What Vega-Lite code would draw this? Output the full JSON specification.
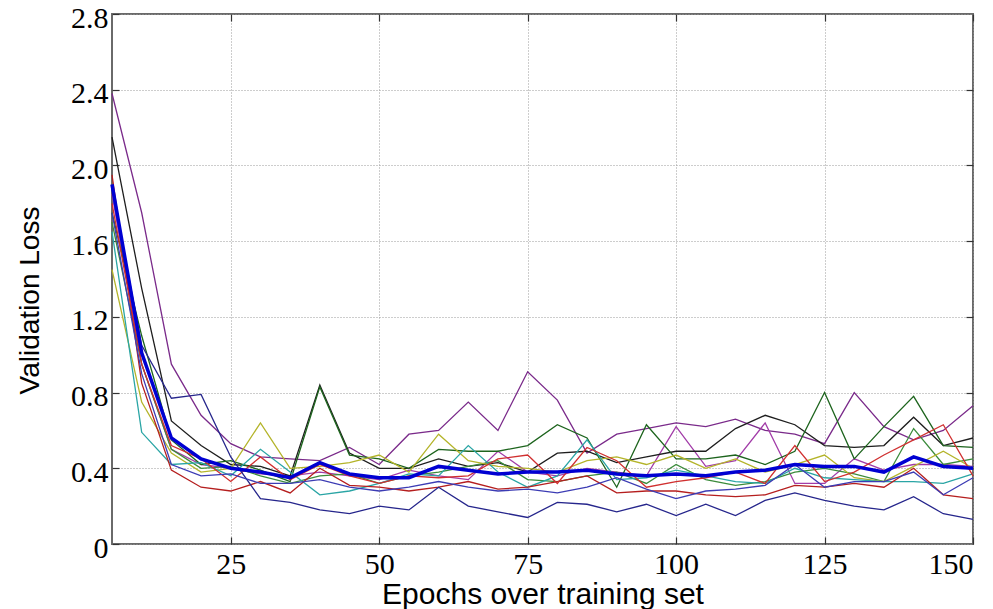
{
  "$schema": "https://vega.github.io/schema/vega-lite/v6.json",
  "width": 861,
  "height": 530,
  "autosize": {"type": "none"},
  "padding": {"left": 112, "top": 14, "right": 20, "bottom": 65},
  "background": "white",
  "config": {
    "view": {"stroke": "#6a6a6a", "strokeWidth": 2},
    "axis": {"domain": false, "tickColor": "#333", "tickWidth": 1.2}
  },
  "data": {"values": [
    {"epoch":5,"Mean":1.90,"P1":2.38,"P2":1.85,"K":2.15,"G1":1.75,"G2":1.70,"Y":1.45,"C":1.65,"R1":1.95,"R2":1.80,"N1":1.88,"N2":1.75},
    {"epoch":10,"Mean":1.01,"P1":1.75,"P2":0.95,"K":1.35,"G1":1.10,"G2":0.95,"Y":0.75,"C":0.59,"R1":0.85,"R2":0.95,"N1":1.05,"N2":0.90},
    {"epoch":15,"Mean":0.56,"P1":0.95,"P2":0.50,"K":0.65,"G1":0.55,"G2":0.50,"Y":0.48,"C":0.42,"R1":0.39,"R2":0.52,"N1":0.77,"N2":0.42},
    {"epoch":20,"Mean":0.45,"P1":0.68,"P2":0.42,"K":0.52,"G1":0.42,"G2":0.40,"Y":0.38,"C":0.43,"R1":0.30,"R2":0.45,"N1":0.79,"N2":0.36},
    {"epoch":25,"Mean":0.40,"P1":0.53,"P2":0.40,"K":0.42,"G1":0.44,"G2":0.41,"Y":0.40,"C":0.36,"R1":0.28,"R2":0.33,"N1":0.46,"N2":0.37},
    {"epoch":30,"Mean":0.38,"P1":0.46,"P2":0.37,"K":0.41,"G1":0.39,"G2":0.36,"Y":0.64,"C":0.50,"R1":0.33,"R2":0.46,"N1":0.24,"N2":0.32},
    {"epoch":35,"Mean":0.35,"P1":0.45,"P2":0.36,"K":0.36,"G1":0.33,"G2":0.32,"Y":0.40,"C":0.38,"R1":0.27,"R2":0.34,"N1":0.22,"N2":0.32},
    {"epoch":40,"Mean":0.43,"P1":0.44,"P2":0.38,"K":0.84,"G1":0.83,"G2":0.36,"Y":0.41,"C":0.26,"R1":0.40,"R2":0.42,"N1":0.18,"N2":0.34},
    {"epoch":45,"Mean":0.37,"P1":0.51,"P2":0.36,"K":0.48,"G1":0.47,"G2":0.37,"Y":0.43,"C":0.28,"R1":0.31,"R2":0.36,"N1":0.16,"N2":0.30},
    {"epoch":50,"Mean":0.35,"P1":0.42,"P2":0.34,"K":0.40,"G1":0.45,"G2":0.32,"Y":0.47,"C":0.32,"R1":0.30,"R2":0.32,"N1":0.20,"N2":0.28},
    {"epoch":55,"Mean":0.35,"P1":0.58,"P2":0.39,"K":0.40,"G1":0.40,"G2":0.36,"Y":0.38,"C":0.37,"R1":0.28,"R2":0.36,"N1":0.18,"N2":0.30},
    {"epoch":60,"Mean":0.41,"P1":0.60,"P2":0.36,"K":0.45,"G1":0.50,"G2":0.38,"Y":0.58,"C":0.36,"R1":0.30,"R2":0.35,"N1":0.30,"N2":0.33},
    {"epoch":65,"Mean":0.39,"P1":0.75,"P2":0.34,"K":0.41,"G1":0.49,"G2":0.41,"Y":0.44,"C":0.52,"R1":0.33,"R2":0.36,"N1":0.20,"N2":0.30},
    {"epoch":70,"Mean":0.37,"P1":0.60,"P2":0.49,"K":0.43,"G1":0.49,"G2":0.44,"Y":0.41,"C":0.38,"R1":0.29,"R2":0.45,"N1":0.17,"N2":0.28},
    {"epoch":75,"Mean":0.38,"P1":0.91,"P2":0.38,"K":0.38,"G1":0.52,"G2":0.34,"Y":0.40,"C":0.30,"R1":0.30,"R2":0.47,"N1":0.14,"N2":0.29},
    {"epoch":80,"Mean":0.38,"P1":0.76,"P2":0.36,"K":0.48,"G1":0.63,"G2":0.33,"Y":0.38,"C":0.36,"R1":0.33,"R2":0.32,"N1":0.22,"N2":0.27},
    {"epoch":85,"Mean":0.39,"P1":0.48,"P2":0.40,"K":0.49,"G1":0.56,"G2":0.36,"Y":0.44,"C":0.55,"R1":0.36,"R2":0.51,"N1":0.21,"N2":0.30},
    {"epoch":90,"Mean":0.37,"P1":0.58,"P2":0.38,"K":0.43,"G1":0.30,"G2":0.38,"Y":0.46,"C":0.34,"R1":0.27,"R2":0.44,"N1":0.17,"N2":0.35},
    {"epoch":95,"Mean":0.36,"P1":0.61,"P2":0.36,"K":0.46,"G1":0.63,"G2":0.32,"Y":0.42,"C":0.35,"R1":0.28,"R2":0.30,"N1":0.21,"N2":0.29},
    {"epoch":100,"Mean":0.37,"P1":0.64,"P2":0.62,"K":0.49,"G1":0.45,"G2":0.42,"Y":0.47,"C":0.39,"R1":0.28,"R2":0.33,"N1":0.15,"N2":0.24},
    {"epoch":105,"Mean":0.36,"P1":0.62,"P2":0.41,"K":0.49,"G1":0.45,"G2":0.34,"Y":0.40,"C":0.36,"R1":0.26,"R2":0.35,"N1":0.21,"N2":0.28},
    {"epoch":110,"Mean":0.38,"P1":0.66,"P2":0.44,"K":0.61,"G1":0.47,"G2":0.31,"Y":0.45,"C":0.33,"R1":0.25,"R2":0.38,"N1":0.15,"N2":0.29},
    {"epoch":115,"Mean":0.39,"P1":0.60,"P2":0.64,"K":0.68,"G1":0.42,"G2":0.33,"Y":0.38,"C":0.32,"R1":0.26,"R2":0.32,"N1":0.23,"N2":0.31},
    {"epoch":120,"Mean":0.42,"P1":0.58,"P2":0.32,"K":0.63,"G1":0.49,"G2":0.38,"Y":0.42,"C":0.40,"R1":0.31,"R2":0.52,"N1":0.27,"N2":0.42},
    {"epoch":125,"Mean":0.41,"P1":0.53,"P2":0.32,"K":0.52,"G1":0.80,"G2":0.40,"Y":0.47,"C":0.35,"R1":0.30,"R2":0.33,"N1":0.23,"N2":0.30},
    {"epoch":130,"Mean":0.41,"P1":0.80,"P2":0.45,"K":0.51,"G1":0.45,"G2":0.37,"Y":0.35,"C":0.34,"R1":0.32,"R2":0.38,"N1":0.20,"N2":0.33},
    {"epoch":135,"Mean":0.38,"P1":0.62,"P2":0.39,"K":0.52,"G1":0.62,"G2":0.33,"Y":0.33,"C":0.33,"R1":0.30,"R2":0.47,"N1":0.18,"N2":0.33},
    {"epoch":140,"Mean":0.46,"P1":0.55,"P2":0.42,"K":0.67,"G1":0.78,"G2":0.61,"Y":0.41,"C":0.33,"R1":0.40,"R2":0.55,"N1":0.25,"N2":0.38},
    {"epoch":145,"Mean":0.41,"P1":0.60,"P2":0.42,"K":0.52,"G1":0.52,"G2":0.42,"Y":0.49,"C":0.32,"R1":0.26,"R2":0.63,"N1":0.16,"N2":0.26},
    {"epoch":150,"Mean":0.40,"P1":0.73,"P2":0.41,"K":0.56,"G1":0.51,"G2":0.45,"Y":0.40,"C":0.37,"R1":0.24,"R2":0.36,"N1":0.13,"N2":0.35}
  ]},
  "layer": [
    {
      "transform": [{"fold": ["P1","P2","K","G1","G2","Y","C","R1","R2","N1","N2"], "as": ["run","loss"]}],
      "mark": {"type": "line", "strokeWidth": 1.3},
      "encoding": {
        "x": {"field": "epoch", "type": "quantitative",
          "scale": {"domain": [5,150], "nice": false, "zero": false},
          "axis": {"orient": "bottom", "values": [25,50,75,100,125,150], "grid": true, "gridColor": "#9a9a9a", "gridDash": [1,2], "gridWidth": 1,
            "tickSize": -7, "labelPadding": 12, "labelFont": "Liberation Serif", "labelFontSize": 30, "labelColor": "#000",
            "title": "Epochs over training set", "titleFont": "Liberation Sans", "titleFontSize": 30, "titleFontWeight": "normal", "titleColor": "#000",
            "titleBaseline": "alphabetic", "titleY": 59}},
        "y": {"field": "loss", "type": "quantitative",
          "scale": {"domain": [0,2.8], "nice": false},
          "axis": {"orient": "left", "values": [0,0.4,0.8,1.2,1.6,2.0,2.4,2.8], "grid": true, "gridColor": "#9a9a9a", "gridDash": [1,2], "gridWidth": 1,
            "tickSize": -7, "labelPadding": 11, "labelOffset": 4, "labelFont": "Liberation Serif", "labelFontSize": 30, "labelColor": "#000",
            "labelExpr": "datum.value == 0 ? '0' : format(datum.value, '.1f')",
            "title": "Validation Loss", "titleFont": "Liberation Sans", "titleFontSize": 28, "titleFontWeight": "normal", "titleColor": "#000",
            "titleAngle": -90, "titleBaseline": "alphabetic", "titleAlign": "center", "titleX": -74, "titleY": 286}},
        "color": {"field": "run", "type": "nominal",
          "scale": {"domain": ["P1","P2","K","G1","G2","Y","C","R1","R2","N1","N2"],
                    "range": ["#7a2a8a","#a23ca8","#1e1e1e","#1d641d","#3b8b3b","#b4b42a","#2aa5a5","#b51e1e","#d03030","#26268c","#3c3cb4"]},
          "legend": null}
      }
    },
    {
      "mark": {"type": "line", "strokeWidth": 3.5, "color": "#0000d2"},
      "encoding": {
        "x": {"field": "epoch", "type": "quantitative",
          "axis": {"orient": "top", "values": [25,50,75,100,125,150], "grid": false, "labels": false, "tickSize": -7, "title": null}},
        "y": {"field": "Mean", "type": "quantitative",
          "axis": {"orient": "right", "values": [0.4,0.8,1.2,1.6,2.0,2.4], "grid": false, "labels": false, "tickSize": -7, "title": null}}
      }
    }
  ],
  "resolve": {"axis": {"x": "independent", "y": "independent"}}
}
